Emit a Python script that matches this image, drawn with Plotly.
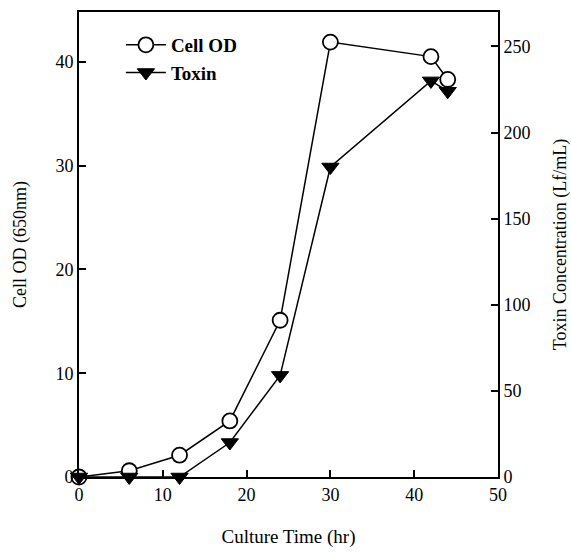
import plotly.graph_objects as go

time_hr = [0, 6, 12, 18, 24, 30, 42, 44]
cell_od = [0, 0.6, 2.1, 5.4, 15.1, 41.9, 40.5, 38.3]
toxin = [0, 0, 0, 20, 59, 180, 230, 224]

x_ticks = [0, 10, 20, 30, 40, 50]
left_ticks = [0, 10, 20, 30, 40]
right_ticks = [0, 50, 100, 150, 200, 250]

FONT = "Liberation Serif"

fig = go.Figure()
fig.add_trace(go.Scatter(
    x=time_hr, y=cell_od, name="<b>Cell OD</b>", mode="lines+markers",
    line=dict(color="black", width=1.5),
    marker=dict(symbol="circle", size=15, color="white", line=dict(color="black", width=1.8)),
    cliponaxis=False, yaxis="y"))
fig.add_trace(go.Scatter(
    x=time_hr, y=toxin, name="<b>Toxin</b>", mode="lines+markers",
    line=dict(color="black", width=1.5),
    marker=dict(symbol="triangle-down", size=15, color="black", line=dict(color="black", width=1)),
    cliponaxis=False, yaxis="y2"))

axis_common = dict(showgrid=False, zeroline=False, showline=True, linecolor="black", linewidth=2,
                   ticks="inside", ticklen=7, tickwidth=2, tickcolor="black", automargin=False,
                   tickfont=dict(family=FONT, size=18, color="black"))

fig.update_layout(
    width=571, height=553,
    margin=dict(l=79, r=73, t=12, b=76),
    paper_bgcolor="white", plot_bgcolor="white",
    font=dict(family=FONT, color="black"),
    showlegend=True,
    legend=dict(x=0.1, y=0.97, xanchor="left", yanchor="top", bgcolor="rgba(0,0,0,0)",
                font=dict(family=FONT, size=19, color="black"), tracegroupgap=0,
                itemwidth=40),
    xaxis=dict(range=[0, 50], tickvals=x_ticks, mirror=True,
               title=dict(text="Culture Time (hr)", font=dict(family=FONT, size=19), standoff=26),
               **axis_common),
    yaxis=dict(range=[0, 44.8], tickvals=left_ticks,
               title=dict(text="Cell OD (650nm)", font=dict(family=FONT, size=18), standoff=24),
               **axis_common),
    yaxis2=dict(range=[0, 270], tickvals=right_ticks, overlaying="y", side="right",
                title=dict(text="Toxin Concentration (Lf/mL)", font=dict(family=FONT, size=18), standoff=24),
                **axis_common),
)

fig.write_html("out.html", post_script="document.body.style.margin='0';",
               config={"displayModeBar": False})
